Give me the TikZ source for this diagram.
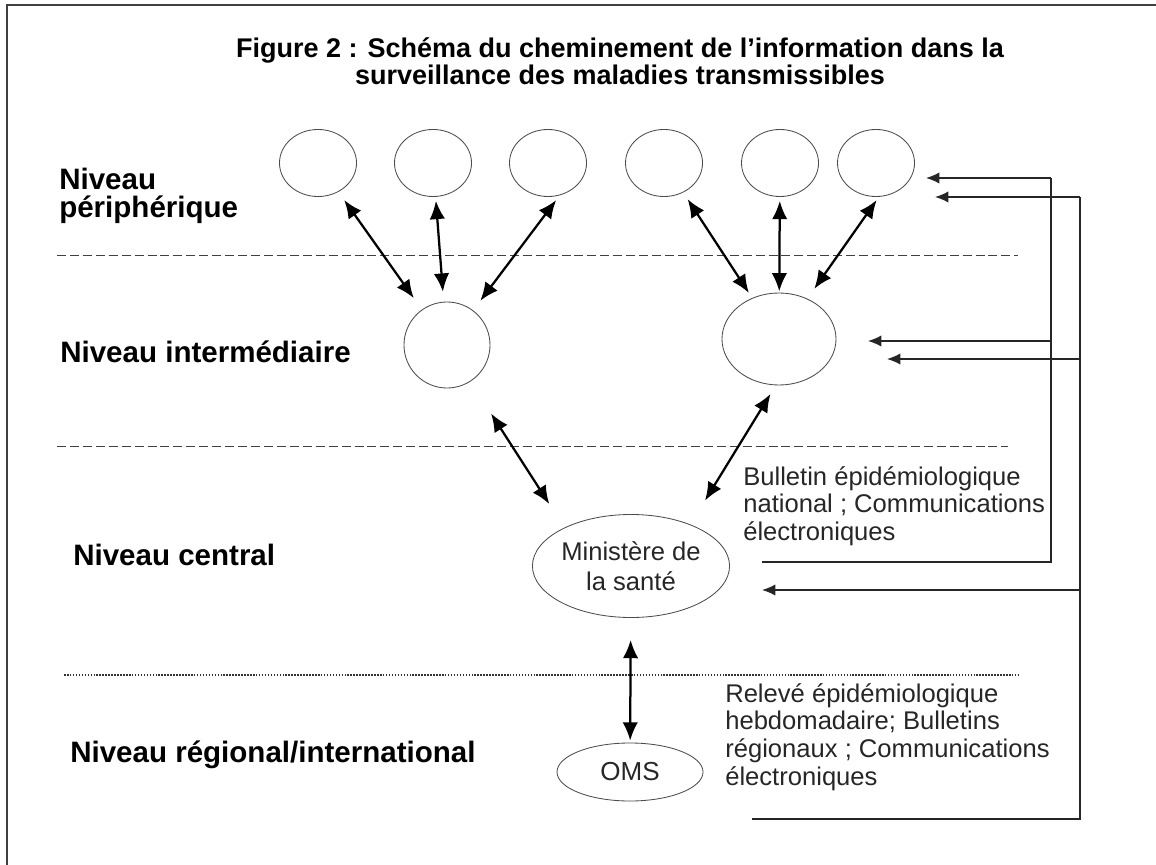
\documentclass[tikz,border=0pt]{standalone}
\usepackage{fontspec}
\setmainfont{Liberation Sans}
\usetikzlibrary{shapes.geometric,arrows.meta}

\tikzset{
    oval/.style={ellipse,draw=black!70,line width=0.6pt,inner sep=0pt},
    niveau/.style={anchor=west,align=left,inner sep=0pt,font=\fontsize{21}{19.5}\selectfont\bfseries},
    note/.style={anchor=west,align=left,inner sep=0pt,text=black!85,font=\fontsize{18.2}{19.6}\selectfont},
    lien/.style={{Latex[length=13pt,width=11pt]}-{Latex[length=13pt,width=11pt]},line width=1.6pt},
    retour/.style={-{Latex[length=9.5pt,width=8pt]},line width=0.9pt,black!85},
    limite/.style={black!75,line width=0.7pt,dash pattern=on 6.4pt off 2.8pt}
}

\begin{document}
\begin{tikzpicture}[x=0.025cm,y=-0.025cm]
        \useasboundingbox (0,0) rectangle (1156,865);

        %frame
        \draw[black!75,line width=1.4pt] (1156,5) -- (7,5) -- (7,865);

        %title
        \node[align=center,font=\fontsize{19.2}{19.2}\selectfont\bfseries] (titre) at (620,61)
            {Figure 2 : Schéma du cheminement de l'information dans la\\surveillance des maladies transmissibles};

        %levels
        \node[niveau] (nperi) at (59,196) {Niveau\\périphérique};
        \node[niveau] (ninter) at (60,352) {Niveau intermédiaire};
        \node[niveau] (ncentral) at (73,555) {Niveau central};
        \node[niveau] (nregion) at (70,755) {Niveau régional/international};

        \draw[limite] (57,255) -- (1018,255);
        \draw[limite] (57,446) -- (1008,446);
        \draw[black!80,line width=1.1pt,densely dotted] (64,675) -- (1020,675);

        %nodes
        \foreach \i/\x in {1/318,2/433,3/548,4/664,5/780,6/876}
            \node[oval,minimum width=1.925cm,minimum height=1.675cm] (p\i) at (\x,163) {};
        \node[oval,minimum width=2.15cm,minimum height=2.15cm] (i1) at (447,345) {};
        \node[oval,minimum width=2.85cm,minimum height=2.3cm] (i2) at (779,339) {};
        \node[oval,minimum width=4.6cm,minimum height=2.575cm,align=center,text=black!85,
              font=\fontsize{18.2}{21}\selectfont] (min) at (631,566) {Ministère de\\la santé};
        \node[oval,minimum width=3.65cm,minimum height=1.45cm,text=black!85,
              font=\fontsize{18.5}{20}\selectfont] (oms) at (630,772) {OMS};

        \node[note] (bull) at (743,506) {Bulletin épidémiologique\\national ; Communications\\électroniques};
        \node[note] (rel) at (725,737) {Relevé épidémiologique\\hebdomadaire; Bulletins\\régionaux ; Communications\\électroniques};

        %arrows between levels
        \draw[lien,shorten <=0.25cm,shorten >=0.35cm] (p1) -- (i1);
        \draw[lien,shorten <=0.1cm,shorten >=0.25cm] (p2) -- (i1);
        \draw[lien,shorten <=0.15cm,shorten >=0.3cm] (p3.-70) -- (i1);
        \draw[lien,shorten <=0.2cm,shorten >=0.15cm] (p4) -- (i2);
        \draw[lien,shorten <=0.1cm,shorten >=0.03cm] (p5) -- (i2);
        \draw[lien,shorten <=0.1cm,shorten >=0.3cm] (p6.-85) -- (i2);
        \draw[lien,shorten <=0.95cm,shorten >=0.7cm] (i1) -- (min.150);
        \draw[lien,shorten <=0.25cm,shorten >=0.7cm] (i2.-94) -- (min.35);
        \draw[lien,shorten <=0.55cm,shorten >=0.05cm] (min) -- (oms);

        %feedback
        \coordinate (depn) at (762,562);
        \coordinate (depi) at (752,819);
        \coordinate (hautn) at (1051,178);
        \coordinate (hauti) at (1080,197);
        \draw[retour,-] (depn) -- (1051,562) -- (hautn);
        \draw[retour,-] (depi) -- (1080,819) -- (hauti);
        \coordinate (a1) at (926,178);
        \coordinate (a2) at (935,197);
        \coordinate (a3) at (868,341);
        \coordinate (a4) at (887,359);
        \coordinate (a5) at (762,590);
        \draw[retour] (hautn) -- (a1);
        \draw[retour] (hauti) -- (a2);
        \draw[retour] (1051,341) -- (a3);
        \draw[retour] (1080,359) -- (a4);
        \draw[retour] (1080,590) -- (a5);

    \end{tikzpicture}
\end{document}
